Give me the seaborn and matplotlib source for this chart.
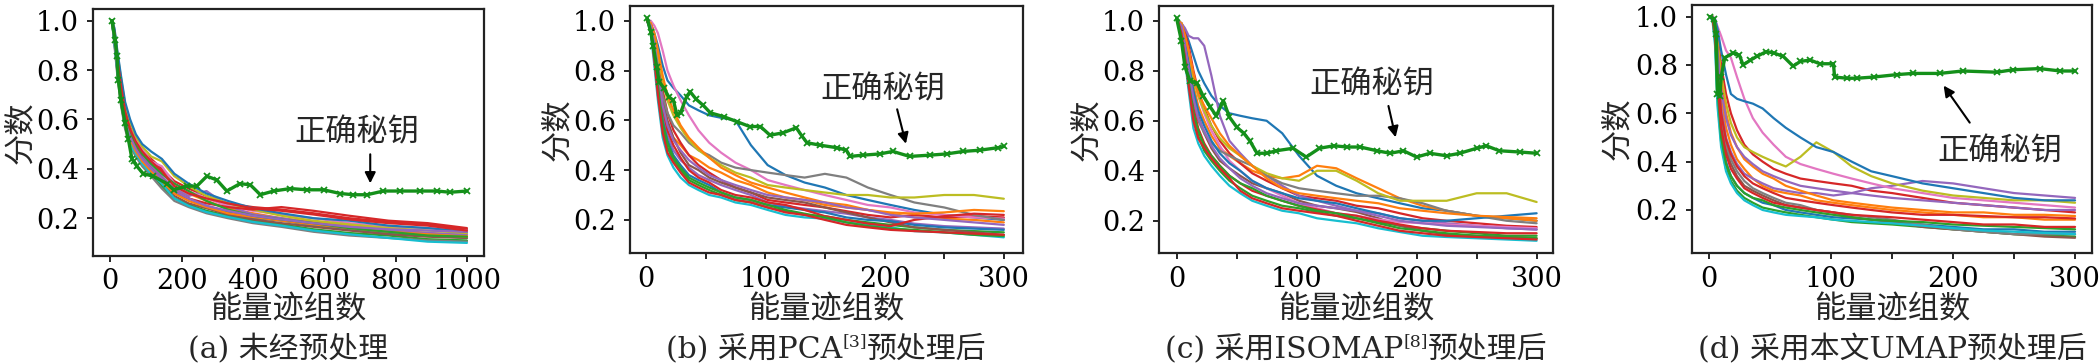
import numpy as np
import pandas as pd
import seaborn as sns
import matplotlib.pyplot as plt
from matplotlib.ticker import MultipleLocator

#### data (score vs. number of trace groups)

# (a) no preprocessing
x_a = [5, 12, 20, 30, 42, 56, 72, 90, 115, 145, 180, 220, 270, 330, 400, 480, 570, 670, 780, 890, 1000]
wrong_a = [
    [1.0, 0.92, 0.81, 0.70, 0.59, 0.52, 0.48, 0.43, 0.40, 0.36, 0.30, 0.28, 0.25, 0.225, 0.20, 0.19, 0.17, 0.155, 0.14, 0.13, 0.12],
    [1.0, 0.95, 0.84, 0.73, 0.63, 0.55, 0.50, 0.46, 0.42, 0.39, 0.33, 0.30, 0.27, 0.24, 0.22, 0.20, 0.185, 0.17, 0.155, 0.14, 0.13],
    [1.0, 0.91, 0.79, 0.67, 0.57, 0.50, 0.46, 0.42, 0.38, 0.33, 0.28, 0.255, 0.23, 0.21, 0.19, 0.175, 0.155, 0.14, 0.13, 0.115, 0.11],
    [1.0, 0.96, 0.86, 0.75, 0.64, 0.57, 0.51, 0.47, 0.44, 0.40, 0.35, 0.32, 0.29, 0.26, 0.245, 0.235, 0.22, 0.20, 0.185, 0.175, 0.155],
    [1.0, 0.93, 0.82, 0.71, 0.60, 0.54, 0.49, 0.45, 0.41, 0.37, 0.32, 0.29, 0.31, 0.25, 0.215, 0.20, 0.18, 0.165, 0.15, 0.14, 0.135],
    [1.0, 0.92, 0.80, 0.68, 0.58, 0.51, 0.47, 0.42, 0.39, 0.34, 0.29, 0.26, 0.24, 0.215, 0.195, 0.18, 0.165, 0.15, 0.135, 0.125, 0.12],
    [1.0, 0.95, 0.85, 0.74, 0.62, 0.56, 0.52, 0.48, 0.43, 0.41, 0.34, 0.31, 0.28, 0.25, 0.23, 0.215, 0.20, 0.18, 0.165, 0.16, 0.15],
    [1.0, 0.90, 0.78, 0.66, 0.56, 0.49, 0.45, 0.41, 0.37, 0.32, 0.27, 0.245, 0.22, 0.20, 0.18, 0.165, 0.145, 0.13, 0.12, 0.11, 0.105],
    [1.0, 0.96, 0.87, 0.77, 0.66, 0.59, 0.53, 0.49, 0.45, 0.43, 0.37, 0.33, 0.29, 0.26, 0.235, 0.21, 0.19, 0.175, 0.16, 0.15, 0.14],
    [1.0, 0.91, 0.80, 0.69, 0.58, 0.50, 0.46, 0.42, 0.38, 0.34, 0.28, 0.25, 0.225, 0.205, 0.185, 0.17, 0.15, 0.135, 0.12, 0.105, 0.10],
    [1.0, 0.97, 0.88, 0.78, 0.67, 0.60, 0.54, 0.50, 0.47, 0.44, 0.38, 0.34, 0.30, 0.27, 0.24, 0.22, 0.20, 0.19, 0.17, 0.16, 0.145],
    [1.0, 0.94, 0.83, 0.72, 0.61, 0.53, 0.49, 0.44, 0.40, 0.36, 0.31, 0.28, 0.26, 0.245, 0.235, 0.245, 0.23, 0.21, 0.19, 0.18, 0.16],
    [1.0, 0.93, 0.82, 0.70, 0.60, 0.52, 0.47, 0.43, 0.39, 0.35, 0.30, 0.27, 0.245, 0.22, 0.205, 0.19, 0.175, 0.16, 0.145, 0.135, 0.125],
    [1.0, 0.94, 0.84, 0.72, 0.62, 0.55, 0.50, 0.46, 0.42, 0.38, 0.34, 0.31, 0.27, 0.235, 0.21, 0.195, 0.18, 0.16, 0.145, 0.13, 0.125],
    [1.0, 0.92, 0.81, 0.70, 0.59, 0.53, 0.48, 0.44, 0.40, 0.36, 0.31, 0.28, 0.25, 0.23, 0.21, 0.195, 0.18, 0.165, 0.155, 0.15, 0.145],
    [1.0, 0.95, 0.85, 0.74, 0.63, 0.56, 0.51, 0.47, 0.43, 0.39, 0.33, 0.30, 0.28, 0.26, 0.24, 0.23, 0.215, 0.195, 0.18, 0.17, 0.15],
]
key_x_a = [5, 14, 19, 23, 30, 42, 51, 61, 66, 75, 93, 121, 159, 178, 215, 243, 271, 299, 327, 364, 393,
           421, 458, 505, 551, 598, 645, 682, 720, 766, 813, 869, 916, 953, 1000]
key_y_a = [1.0, 0.92, 0.855, 0.76, 0.68, 0.585, 0.52, 0.44, 0.43, 0.41, 0.38, 0.37, 0.34, 0.315, 0.33, 0.33,
           0.37, 0.355, 0.31, 0.34, 0.335, 0.295, 0.31, 0.32, 0.315, 0.315, 0.30, 0.295, 0.295, 0.31, 0.31,
           0.31, 0.31, 0.305, 0.31]

# (b) PCA
x_b = [1, 4, 7, 10, 14, 18, 23, 29, 36, 44, 53, 63, 75, 88, 102, 117, 133, 150, 168, 186, 205, 225, 250, 275, 300]
wrong_b = [
    [1.0, 0.99, 0.95, 0.90, 0.82, 0.76, 0.73, 0.70, 0.66, 0.64, 0.62, 0.61, 0.60, 0.50, 0.42, 0.38, 0.35, 0.33, 0.30, 0.28, 0.26, 0.24, 0.22, 0.21, 0.20],
    [1.0, 0.98, 0.90, 0.78, 0.64, 0.58, 0.53, 0.50, 0.46, 0.44, 0.41, 0.39, 0.36, 0.34, 0.31, 0.29, 0.28, 0.26, 0.25, 0.24, 0.225, 0.21, 0.205, 0.20, 0.19],
    [1.0, 0.96, 0.85, 0.72, 0.57, 0.49, 0.44, 0.40, 0.36, 0.34, 0.32, 0.30, 0.28, 0.27, 0.25, 0.235, 0.22, 0.215, 0.20, 0.19, 0.18, 0.17, 0.16, 0.155, 0.15],
    [1.0, 0.99, 0.94, 0.86, 0.72, 0.63, 0.56, 0.51, 0.46, 0.42, 0.39, 0.36, 0.33, 0.31, 0.28, 0.27, 0.26, 0.25, 0.235, 0.22, 0.21, 0.22, 0.21, 0.215, 0.21],
    [1.0, 0.97, 0.88, 0.77, 0.62, 0.54, 0.48, 0.44, 0.41, 0.38, 0.36, 0.34, 0.32, 0.30, 0.27, 0.255, 0.245, 0.235, 0.225, 0.21, 0.20, 0.185, 0.175, 0.17, 0.165],
    [1.0, 0.98, 0.92, 0.82, 0.68, 0.60, 0.53, 0.47, 0.42, 0.40, 0.37, 0.35, 0.33, 0.31, 0.29, 0.28, 0.27, 0.25, 0.23, 0.21, 0.19, 0.17, 0.16, 0.15, 0.14],
    [1.0, 1.0, 0.98, 0.95, 0.88, 0.80, 0.74, 0.68, 0.62, 0.56, 0.51, 0.47, 0.43, 0.40, 0.36, 0.34, 0.32, 0.30, 0.28, 0.26, 0.25, 0.23, 0.22, 0.21, 0.205],
    [1.0, 0.98, 0.90, 0.80, 0.70, 0.63, 0.58, 0.55, 0.51, 0.48, 0.46, 0.43, 0.41, 0.40, 0.39, 0.38, 0.37, 0.385, 0.37, 0.33, 0.30, 0.27, 0.25, 0.22, 0.20],
    [1.0, 0.99, 0.93, 0.86, 0.76, 0.68, 0.62, 0.57, 0.52, 0.48, 0.45, 0.42, 0.39, 0.37, 0.34, 0.33, 0.32, 0.31, 0.30, 0.30, 0.29, 0.29, 0.30, 0.30, 0.285],
    [1.0, 0.95, 0.82, 0.68, 0.53, 0.46, 0.41, 0.37, 0.34, 0.32, 0.30, 0.29, 0.27, 0.26, 0.24, 0.22, 0.21, 0.205, 0.19, 0.18, 0.17, 0.155, 0.15, 0.14, 0.13],
    [1.0, 0.97, 0.87, 0.75, 0.60, 0.52, 0.46, 0.42, 0.38, 0.36, 0.34, 0.31, 0.29, 0.28, 0.26, 0.25, 0.24, 0.23, 0.21, 0.20, 0.195, 0.18, 0.17, 0.165, 0.16],
    [1.0, 0.98, 0.89, 0.79, 0.65, 0.56, 0.50, 0.45, 0.40, 0.37, 0.35, 0.32, 0.30, 0.29, 0.27, 0.26, 0.24, 0.215, 0.20, 0.185, 0.175, 0.20, 0.215, 0.225, 0.22],
    [1.0, 0.99, 0.95, 0.88, 0.78, 0.70, 0.64, 0.58, 0.53, 0.49, 0.45, 0.41, 0.38, 0.35, 0.33, 0.31, 0.29, 0.27, 0.26, 0.24, 0.23, 0.225, 0.23, 0.24, 0.235],
    [1.0, 0.97, 0.86, 0.74, 0.59, 0.51, 0.45, 0.41, 0.37, 0.35, 0.33, 0.31, 0.29, 0.28, 0.26, 0.24, 0.225, 0.21, 0.19, 0.175, 0.165, 0.16, 0.15, 0.14, 0.135],
    [1.0, 0.98, 0.91, 0.81, 0.66, 0.58, 0.52, 0.48, 0.44, 0.41, 0.38, 0.36, 0.34, 0.32, 0.30, 0.29, 0.28, 0.27, 0.25, 0.24, 0.22, 0.21, 0.20, 0.19, 0.18],
    [1.0, 0.96, 0.84, 0.70, 0.55, 0.47, 0.43, 0.39, 0.35, 0.33, 0.31, 0.30, 0.28, 0.27, 0.25, 0.23, 0.22, 0.20, 0.18, 0.17, 0.16, 0.155, 0.15, 0.145, 0.14],
]
key_x_b = [1, 4, 6, 9, 11, 15, 19, 23, 26, 29, 34, 37, 42, 48, 54, 65, 76, 87, 96, 104, 115, 126, 131, 135,
           146, 160, 168, 171, 182, 196, 207, 221, 238, 252, 266, 280, 295, 300]
key_y_b = [1.01, 0.955, 0.90, 0.815, 0.755, 0.73, 0.695, 0.68, 0.62, 0.63, 0.695, 0.715, 0.685, 0.66, 0.63,
           0.615, 0.595, 0.575, 0.575, 0.54, 0.55, 0.57, 0.535, 0.51, 0.50, 0.49, 0.48, 0.455, 0.46, 0.465,
           0.475, 0.455, 0.46, 0.465, 0.475, 0.48, 0.49, 0.495]

# (c) ISOMAP
x_c = [1, 4, 7, 10, 14, 18, 23, 29, 36, 44, 53, 63, 75, 88, 102, 117, 133, 150, 168, 186, 205, 225, 250, 275, 300]
wrong_c = [
    [1.0, 0.99, 0.96, 0.92, 0.86, 0.80, 0.75, 0.70, 0.66, 0.63, 0.62, 0.61, 0.60, 0.55, 0.46, 0.38, 0.34, 0.31, 0.29, 0.27, 0.25, 0.24, 0.22, 0.21, 0.20],
    [1.0, 0.98, 0.92, 0.85, 0.74, 0.66, 0.60, 0.54, 0.49, 0.46, 0.43, 0.40, 0.38, 0.37, 0.38, 0.42, 0.41, 0.37, 0.33, 0.29, 0.26, 0.24, 0.22, 0.21, 0.20],
    [1.0, 0.96, 0.86, 0.75, 0.61, 0.54, 0.48, 0.44, 0.40, 0.36, 0.33, 0.30, 0.28, 0.26, 0.25, 0.235, 0.22, 0.21, 0.195, 0.18, 0.17, 0.16, 0.15, 0.14, 0.14],
    [1.0, 0.99, 0.95, 0.90, 0.80, 0.72, 0.65, 0.58, 0.52, 0.47, 0.43, 0.39, 0.36, 0.33, 0.30, 0.29, 0.28, 0.26, 0.25, 0.23, 0.21, 0.20, 0.19, 0.18, 0.175],
    [1.0, 0.99, 0.97, 0.94, 0.93, 0.93, 0.90, 0.78, 0.62, 0.52, 0.47, 0.42, 0.38, 0.34, 0.30, 0.28, 0.26, 0.24, 0.23, 0.21, 0.20, 0.19, 0.18, 0.17, 0.165],
    [1.0, 0.97, 0.90, 0.82, 0.70, 0.62, 0.55, 0.49, 0.44, 0.41, 0.38, 0.35, 0.33, 0.31, 0.28, 0.26, 0.25, 0.235, 0.21, 0.18, 0.16, 0.145, 0.14, 0.135, 0.13],
    [1.0, 0.98, 0.93, 0.88, 0.78, 0.70, 0.63, 0.56, 0.50, 0.44, 0.40, 0.36, 0.33, 0.30, 0.27, 0.25, 0.23, 0.22, 0.205, 0.195, 0.19, 0.185, 0.18, 0.175, 0.17],
    [1.0, 0.97, 0.89, 0.80, 0.68, 0.60, 0.55, 0.51, 0.48, 0.46, 0.44, 0.42, 0.38, 0.35, 0.33, 0.32, 0.31, 0.30, 0.30, 0.29, 0.27, 0.24, 0.22, 0.20, 0.19],
    [1.0, 0.99, 0.93, 0.87, 0.77, 0.70, 0.64, 0.58, 0.53, 0.49, 0.46, 0.42, 0.39, 0.37, 0.36, 0.40, 0.40, 0.36, 0.31, 0.28, 0.28, 0.28, 0.31, 0.31, 0.275],
    [1.0, 0.95, 0.84, 0.72, 0.57, 0.51, 0.46, 0.42, 0.38, 0.34, 0.31, 0.28, 0.26, 0.24, 0.23, 0.21, 0.20, 0.19, 0.17, 0.155, 0.14, 0.135, 0.13, 0.125, 0.12],
    [1.0, 0.98, 0.91, 0.83, 0.72, 0.64, 0.58, 0.52, 0.47, 0.43, 0.40, 0.36, 0.33, 0.31, 0.29, 0.28, 0.27, 0.25, 0.23, 0.21, 0.20, 0.20, 0.21, 0.22, 0.23],
    [1.0, 0.97, 0.88, 0.78, 0.65, 0.57, 0.51, 0.46, 0.42, 0.38, 0.35, 0.32, 0.30, 0.28, 0.26, 0.245, 0.23, 0.22, 0.20, 0.185, 0.17, 0.16, 0.155, 0.15, 0.15],
    [1.0, 0.99, 0.94, 0.88, 0.79, 0.71, 0.66, 0.61, 0.55, 0.50, 0.46, 0.42, 0.37, 0.33, 0.31, 0.30, 0.29, 0.28, 0.27, 0.25, 0.24, 0.23, 0.22, 0.215, 0.21],
    [1.0, 0.96, 0.87, 0.77, 0.63, 0.56, 0.50, 0.46, 0.42, 0.38, 0.35, 0.33, 0.30, 0.28, 0.26, 0.24, 0.23, 0.21, 0.19, 0.17, 0.16, 0.15, 0.14, 0.135, 0.13],
    [1.0, 0.98, 0.90, 0.81, 0.69, 0.61, 0.56, 0.50, 0.45, 0.41, 0.37, 0.34, 0.31, 0.29, 0.27, 0.26, 0.25, 0.24, 0.22, 0.20, 0.19, 0.18, 0.175, 0.17, 0.165],
    [1.0, 0.95, 0.85, 0.74, 0.60, 0.53, 0.49, 0.45, 0.41, 0.37, 0.32, 0.29, 0.27, 0.25, 0.24, 0.23, 0.22, 0.20, 0.18, 0.16, 0.15, 0.14, 0.135, 0.13, 0.125],
]
key_x_c = [0, 4, 7, 11, 17, 22, 28, 33, 39, 44, 50, 56, 61, 67, 75, 83, 97, 108, 119, 131, 142, 153, 167,
           178, 189, 200, 211, 225, 236, 250, 258, 269, 286, 300]
key_y_c = [1.01, 0.92, 0.815, 0.76, 0.75, 0.70, 0.655, 0.62, 0.68, 0.615, 0.575, 0.55, 0.52, 0.47, 0.47,
           0.48, 0.49, 0.455, 0.49, 0.50, 0.495, 0.495, 0.48, 0.47, 0.48, 0.455, 0.47, 0.46, 0.47, 0.49,
           0.50, 0.48, 0.475, 0.47]

# (d) UMAP (this paper)
x_d = [1, 3, 5, 7, 10, 14, 18, 23, 29, 36, 44, 53, 63, 75, 88, 102, 117, 133, 150, 175, 200, 225, 250, 275, 300]
wrong_d = [
    [1.0, 0.99, 0.93, 0.72, 0.52, 0.40, 0.34, 0.30, 0.27, 0.25, 0.23, 0.22, 0.20, 0.19, 0.18, 0.17, 0.165, 0.16, 0.15, 0.14, 0.13, 0.12, 0.12, 0.11, 0.11],
    [1.0, 1.0, 0.96, 0.84, 0.66, 0.54, 0.47, 0.41, 0.37, 0.33, 0.30, 0.28, 0.27, 0.26, 0.24, 0.23, 0.22, 0.21, 0.20, 0.19, 0.18, 0.17, 0.17, 0.16, 0.16],
    [1.0, 0.99, 0.90, 0.66, 0.48, 0.37, 0.32, 0.28, 0.25, 0.23, 0.21, 0.20, 0.19, 0.18, 0.17, 0.16, 0.15, 0.145, 0.14, 0.13, 0.12, 0.11, 0.10, 0.095, 0.09],
    [1.0, 1.0, 0.98, 0.92, 0.80, 0.68, 0.60, 0.53, 0.47, 0.43, 0.40, 0.37, 0.35, 0.33, 0.32, 0.31, 0.30, 0.28, 0.27, 0.25, 0.23, 0.22, 0.21, 0.20, 0.19],
    [1.0, 0.99, 0.95, 0.82, 0.62, 0.50, 0.44, 0.39, 0.35, 0.33, 0.31, 0.29, 0.28, 0.27, 0.27, 0.26, 0.27, 0.29, 0.30, 0.32, 0.31, 0.29, 0.27, 0.26, 0.25],
    [1.0, 0.99, 0.92, 0.76, 0.56, 0.45, 0.39, 0.34, 0.30, 0.28, 0.26, 0.24, 0.22, 0.21, 0.20, 0.19, 0.17, 0.16, 0.15, 0.13, 0.12, 0.11, 0.10, 0.09, 0.085],
    [1.0, 1.0, 0.99, 0.96, 0.92, 0.86, 0.83, 0.75, 0.66, 0.58, 0.52, 0.47, 0.42, 0.39, 0.37, 0.35, 0.33, 0.31, 0.29, 0.27, 0.25, 0.24, 0.23, 0.22, 0.21],
    [1.0, 0.99, 0.93, 0.78, 0.58, 0.47, 0.41, 0.36, 0.32, 0.29, 0.27, 0.25, 0.23, 0.22, 0.20, 0.19, 0.18, 0.17, 0.16, 0.14, 0.12, 0.11, 0.10, 0.10, 0.10],
    [1.0, 1.0, 0.98, 0.90, 0.76, 0.64, 0.56, 0.50, 0.46, 0.44, 0.42, 0.40, 0.38, 0.42, 0.48, 0.44, 0.38, 0.34, 0.31, 0.28, 0.26, 0.25, 0.24, 0.24, 0.23],
    [1.0, 0.98, 0.88, 0.63, 0.46, 0.36, 0.31, 0.27, 0.24, 0.22, 0.20, 0.19, 0.18, 0.175, 0.17, 0.16, 0.155, 0.15, 0.145, 0.135, 0.125, 0.115, 0.11, 0.105, 0.10],
    [1.0, 1.0, 0.99, 0.95, 0.86, 0.76, 0.68, 0.66, 0.65, 0.64, 0.62, 0.58, 0.54, 0.50, 0.46, 0.44, 0.40, 0.36, 0.34, 0.31, 0.29, 0.27, 0.25, 0.24, 0.24],
    [1.0, 0.99, 0.94, 0.80, 0.60, 0.49, 0.43, 0.38, 0.34, 0.31, 0.29, 0.27, 0.25, 0.24, 0.23, 0.22, 0.21, 0.20, 0.19, 0.18, 0.18, 0.175, 0.17, 0.17, 0.165],
    [1.0, 1.0, 0.97, 0.88, 0.72, 0.60, 0.52, 0.46, 0.41, 0.38, 0.35, 0.33, 0.30, 0.28, 0.26, 0.24, 0.23, 0.22, 0.21, 0.20, 0.19, 0.19, 0.18, 0.18, 0.175],
    [1.0, 0.99, 0.91, 0.70, 0.50, 0.39, 0.34, 0.30, 0.27, 0.25, 0.24, 0.22, 0.21, 0.20, 0.19, 0.18, 0.17, 0.16, 0.155, 0.15, 0.14, 0.135, 0.13, 0.125, 0.12],
    [1.0, 1.0, 0.96, 0.86, 0.70, 0.58, 0.51, 0.46, 0.42, 0.39, 0.36, 0.34, 0.32, 0.30, 0.29, 0.28, 0.27, 0.26, 0.25, 0.24, 0.23, 0.22, 0.21, 0.20, 0.20],
    [1.0, 0.99, 0.93, 0.74, 0.54, 0.43, 0.37, 0.33, 0.29, 0.27, 0.25, 0.23, 0.22, 0.21, 0.20, 0.19, 0.18, 0.175, 0.17, 0.16, 0.15, 0.14, 0.14, 0.13, 0.13],
]
key_x_d = [1, 4, 6, 7, 9, 10, 13, 20, 25, 28, 34, 39, 47, 53, 61, 69, 75, 83, 91, 102, 103, 113, 121, 135,
           154, 167, 189, 208, 236, 249, 271, 288, 300]
key_y_d = [1.0, 0.99, 0.93, 0.68, 0.67, 0.75, 0.83, 0.85, 0.84, 0.80, 0.82, 0.835, 0.855, 0.85, 0.835, 0.795,
           0.815, 0.82, 0.805, 0.805, 0.75, 0.745, 0.745, 0.75, 0.76, 0.765, 0.765, 0.775, 0.77, 0.78, 0.785,
           0.775, 0.775]

x_ticks = [[0, 200, 400, 600, 800, 1000], [0, 100, 200, 300], [0, 100, 200, 300], [0, 100, 200, 300]]
y_ticks = [0.2, 0.4, 0.6, 0.8, 1.0]

# caption pieces: (before, superscript, after)
captions = [('(a) 未经预处理', '', ''),
            ('(b) 采用PCA', '[3]', '预处理后'),
            ('(c) 采用ISOMAP', '[8]', '预处理后'),
            ('(d) 采用本文UMAP预处理后', '', '')]
# text centre, arrow tail, arrow head (data coords)
notes = [((692, 0.545), (729, 0.47), (729, 0.33)),
         ((199, 0.72), (210, 0.655), (218.5, 0.495)),
         ((163, 0.743), (176, 0.67), (183, 0.523)),
         ((238.5, 0.44), (215, 0.552), (191, 0.724))]

#### style
sns.set_style("white")
plt.rcParams['font.family'] = ['DejaVu Serif', 'Noto Sans CJK SC']
plt.rcParams['axes.unicode_minus'] = False

W, H = 2100, 363
fig = plt.figure(figsize=(21, 3.63), dpi=100, facecolor='white')
boxes = [[0.0443, 0.2948, 0.1862, 0.6804],
         [0.3000, 0.3030, 0.1871, 0.6804],
         [0.5519, 0.3030, 0.1876, 0.6804],
         [0.8057, 0.3030, 0.1905, 0.6832]]
xlims = [(-48, 1048), (-13.4, 316), (-14.7, 313.6), (-13.9, 313.9)]
ylims = [(0.047, 1.047), (0.067, 1.059), (0.071, 1.059), (0.022, 1.048)]

panels = [(x_a, wrong_a, key_x_a, key_y_a), (x_b, wrong_b, key_x_b, key_y_b),
          (x_c, wrong_c, key_x_c, key_y_c), (x_d, wrong_d, key_x_d, key_y_d)]

tab = sns.color_palette('tab10', 10)
colors = tab + [tab[0], tab[3], tab[1], tab[2], tab[4], tab[3]]
key_color = '#14901a'
num_font = dict(family='DejaVu Serif', size=19.5)

renderer = fig.canvas.get_renderer()

for i, (xs, wrong, kx, ky) in enumerate(panels):
    ax = fig.add_axes(boxes[i])
    rows = []
    for k, ys in enumerate(wrong):
        for xv, yv in zip(xs, ys):
            rows.append((k, xv, yv))
    df = pd.DataFrame(rows, columns=['key', 'n', 'score'])
    sns.lineplot(data=df, x='n', y='score', hue='key', palette=colors,
                 legend=False, linewidth=1.6, errorbar=None, ax=ax)
    key_df = pd.DataFrame({'n': kx, 'score': ky})
    sns.lineplot(data=key_df, x='n', y='score', color=key_color, linewidth=2.4,
                 marker='x', markersize=4.5, markeredgewidth=1.3,
                 markeredgecolor=key_color, errorbar=None, ax=ax)

    ax.set_xlim(*xlims[i])
    ax.set_ylim(*ylims[i])
    ax.set_yticks(y_ticks)
    ax.set_yticklabels([f'{v:.1f}' for v in y_ticks], fontdict=num_font)
    ax.set_xticks(x_ticks[i])
    ax.set_xticklabels([str(v) for v in x_ticks[i]], fontdict=num_font)
    if i > 0:
        ax.xaxis.set_minor_locator(MultipleLocator(50))
    ax.tick_params(axis='both', which='both', direction='out', length=4, width=1.2,
                   colors='black')
    ax.tick_params(axis='x', which='both', bottom=True, pad=5)
    ax.tick_params(axis='y', left=True, pad=6)
    ax.set_xlabel('')
    ax.set_ylabel('')
    for s in ax.spines.values():
        s.set_color('#222222')
        s.set_linewidth(1.6)

    (tx, ty), tail, head = notes[i]
    ax.text(tx, ty, '正确秘钥', fontsize=22.5, ha='center', va='center')
    ax.annotate('', xy=head, xytext=tail,
                arrowprops=dict(arrowstyle='-|>', color='black', lw=1.5, mutation_scale=16))

    ax.text(-0.185, 0.5, '分数', rotation=90, fontsize=22.5, ha='center', va='center',
            transform=ax.transAxes)
    cx = boxes[i][0] + boxes[i][2] / 2
    fig.text(cx, 1 - 310 / H, '能量迹组数', fontsize=22.5, ha='center', va='center')

    # caption with a raised reference number
    base_y = 1 - 358 / H
    parts = [(captions[i][0], 21.5, 0), (captions[i][1], 12.5, 12), (captions[i][2], 21.5, 0)]
    pieces = []
    for s, size, dy in parts:
        if s:
            t = fig.text(0, base_y + dy / H, s, fontsize=size, ha='left', va='baseline')
            pieces.append(t)
    widths = [t.get_window_extent(renderer).width for t in pieces]
    x0 = cx * W - sum(widths) / 2
    for t, w in zip(pieces, widths):
        t.set_x(x0 / W)
        x0 += w

plt.savefig('out.png', dpi=100, facecolor='white')
